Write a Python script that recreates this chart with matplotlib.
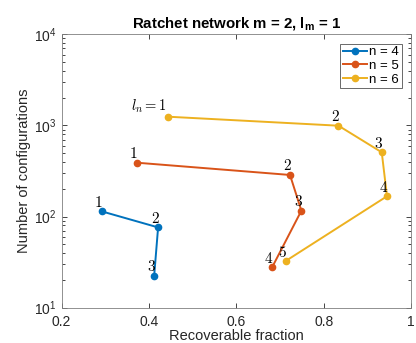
"""
Ratchet network: number of configurations vs recoverable fraction.
"""

import matplotlib

matplotlib.use("Agg")
import matplotlib.pyplot as plt
from matplotlib.ticker import LogLocator, NullFormatter

plt.rcParams["font.family"] = ["Liberation Sans", "DejaVu Sans"]
plt.rcParams["mathtext.fontset"] = "custom"
plt.rcParams["mathtext.rm"] = "Liberation Sans"
plt.rcParams["mathtext.it"] = "Liberation Sans:italic"
plt.rcParams["mathtext.bf"] = "Liberation Sans:bold"

# recoverable fraction / number of configurations for each n
frac_n4 = [0.292, 0.421, 0.412]
conf_n4 = [114, 76, 22.4]
frac_n5 = [0.372, 0.723, 0.749, 0.682]
conf_n5 = [390, 286, 116, 27.7]
frac_n6 = [0.443, 0.834, 0.933, 0.945, 0.713]
conf_n6 = [1247, 993, 507, 167, 32.5]

series = [
    ("n = 4", frac_n4, conf_n4, "#0072BD"),
    ("n = 5", frac_n5, conf_n5, "#D95319"),
    ("n = 6", frac_n6, conf_n6, "#EDB120"),
]

axis_gray = "#262626"

fig = plt.figure(figsize=(4.16, 3.43), dpi=100)
ax = fig.add_axes([0.148, 0.103, 0.84, 0.797])

for label, xs, ys, color in series:
    ax.plot(xs, ys, "-o", color=color, lw=1.4, ms=4.5, label=label)
    for i, (x, y) in enumerate(zip(xs, ys)):
        if label == "n = 6" and i == 0:
            continue
        ax.annotate(
            "$%d$" % (i + 1),
            (x, y),
            xytext=(-3, 9),
            textcoords="offset pixels",
            ha="center",
            va="center",
            fontsize=11,
            math_fontfamily="cm",
        )

# first point of n = 6 carries the l_n label
ax.annotate(
    r"$l_n = 1$",
    (frac_n6[0], conf_n6[0]),
    xytext=(-1, 10),
    textcoords="offset pixels",
    ha="right",
    va="center",
    fontsize=10.5,
    math_fontfamily="cm",
)

ax.set_yscale("log")
ax.set_xlim(0.2, 1.0)
ax.set_ylim(10, 1e4)
ax.set_xticks([0.2, 0.4, 0.6, 0.8, 1.0])
ax.set_xticklabels(["0.2", "0.4", "0.6", "0.8", "1"])
ax.yaxis.set_major_locator(LogLocator(base=10, numticks=10))
ax.yaxis.set_minor_locator(LogLocator(base=10, subs=range(2, 10), numticks=10))
ax.yaxis.set_minor_formatter(NullFormatter())

ax.tick_params(
    which="both", direction="in", top=True, right=True,
    colors=axis_gray, labelsize=10, width=0.6,
)
ax.tick_params(which="major", length=3.5)
ax.tick_params(which="minor", length=2)
ax.tick_params(axis="x", pad=5)
for sp in ax.spines.values():
    sp.set_color("#7f7f7f")
    sp.set_linewidth(0.6)

ax.set_xlabel("Recoverable fraction", fontsize=10.5, color=axis_gray, labelpad=0)
ax.set_ylabel("Number of configurations", fontsize=10.5, color=axis_gray, labelpad=2)
ax.set_title(
    r"Ratchet network m = 2, l$_\mathbf{m}$ = 1",
    fontsize=10.8, fontweight="bold", pad=5,
)

leg = ax.legend(
    loc="upper right", fontsize=9.5, handlelength=1.8, handletextpad=0.2,
    borderpad=0.2, labelspacing=0.1, fancybox=False, borderaxespad=0.7,
)
leg.get_frame().set_edgecolor("#262626")
leg.get_frame().set_linewidth(0.6)

fig.savefig("out.png", dpi=100)
